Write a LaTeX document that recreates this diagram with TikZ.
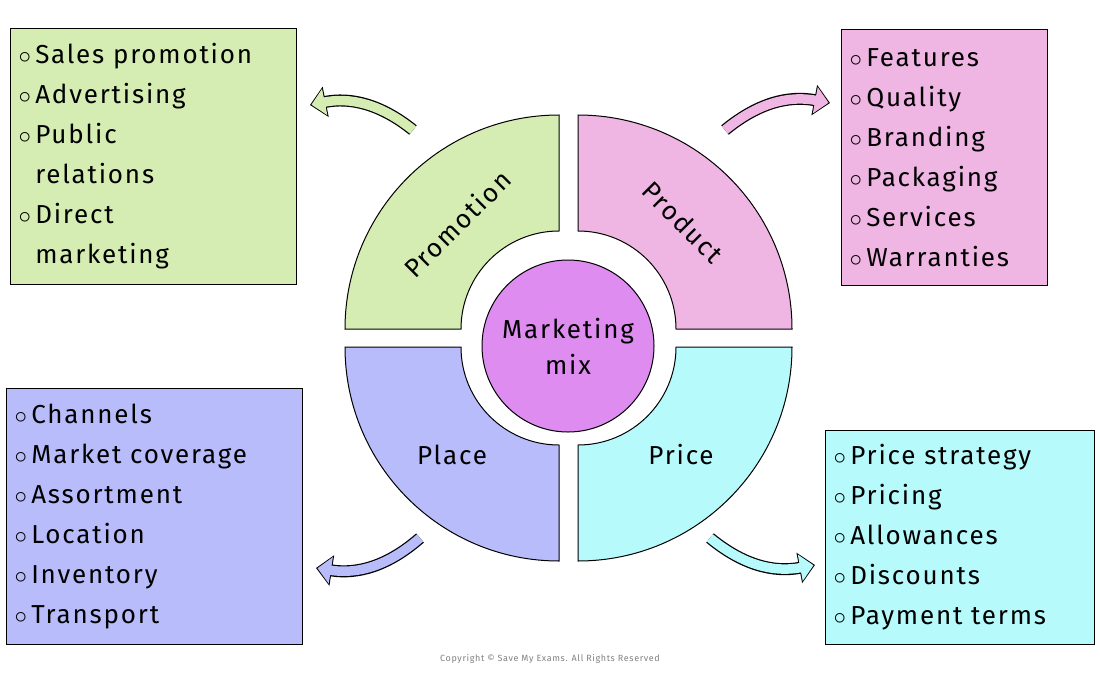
\documentclass[tikz,border=0pt]{standalone}
\usepackage{fontspec}
\setmainfont{Fira Sans}[LetterSpace=7]
\usetikzlibrary{arrows.meta}
\definecolor{cpromo}{HTML}{D5EDB3}
\definecolor{cprod}{HTML}{EFB5E3}
\definecolor{cplace}{HTML}{B8BCFA}
\definecolor{cprice}{HTML}{B6FAFC}
\definecolor{cmix}{HTML}{DE8CF0}
\begin{document}
\begin{tikzpicture}[x=1pt,y=-1pt,
  sec/.style={draw=black,line width=1pt},
  box/.style={draw=black,line width=1pt,anchor=north west,align=left,inner xsep=8pt,inner ysep=6pt,font=\fontsize{26}{40}\selectfont,text width=#1},
  lab/.style={font=\fontsize{26}{30}\selectfont},
  arr/.style={line width=1pt}]
\useasboundingbox (0,0) rectangle (1100,672);
% sectors
\def\ri{98}\def\ro{214}
\filldraw[sec,fill=cpromo] (559-\ri,329) -- (559-\ro,329) arc[start angle=180,end angle=90,x radius=\ro,y radius=-\ro] -- (559,329-\ri) arc[start angle=90,end angle=180,x radius=\ri,y radius=-\ri] -- cycle;
\filldraw[sec,fill=cprod] (578,329-\ri) -- (578,329-\ro) arc[start angle=90,end angle=0,x radius=\ro,y radius=-\ro] -- (578+\ri,329) arc[start angle=0,end angle=90,x radius=\ri,y radius=-\ri] -- cycle;
\filldraw[sec,fill=cplace] (559-\ri,347) -- (559-\ro,347) arc[start angle=180,end angle=270,x radius=\ro,y radius=-\ro] -- (559,347+\ri) arc[start angle=270,end angle=180,x radius=\ri,y radius=-\ri] -- cycle;
\filldraw[sec,fill=cprice] (578+\ri,347) -- (578+\ro,347) arc[start angle=0,end angle=-90,x radius=\ro,y radius=-\ro] -- (578,347+\ri) arc[start angle=-90,end angle=0,x radius=\ri,y radius=-\ri] -- cycle;
\node[circle,draw,line width=1pt,fill=cmix,minimum size=172pt,align=center,lab] (mix) at (568,346) {Marketing\\[6pt]mix};
\node[lab,rotate=45] (lpromo) at (457,224) {Promotion};
\node[lab,rotate=-45] (lprod) at (683,222) {Product};
\node[lab] (lplace) at (452,455) {Place};
\node[lab] (lprice) at (681,455) {Price};
% boxes
\node[box=270pt,fill=cpromo,minimum height=256pt] (bpromo) at (10,28) {$\circ$\,Sales promotion\\$\circ$\,Advertising\\$\circ$\,Public\\\phantom{$\circ$\,}relations\\$\circ$\,Direct\\\phantom{$\circ$\,}marketing};
\node[box=190pt,fill=cprod,minimum height=256pt] (bprod) at (841,29) {$\circ$\,Features\\$\circ$\,Quality\\$\circ$\,Branding\\$\circ$\,Packaging\\$\circ$\,Services\\$\circ$\,Warranties};
\node[box=280pt,fill=cplace,minimum height=256pt] (bplace) at (6,388) {$\circ$\,Channels\\$\circ$\,Market coverage\\$\circ$\,Assortment\\$\circ$\,Location\\$\circ$\,Inventory\\$\circ$\,Transport};
\node[box=253pt,fill=cprice,minimum height=214pt] (bprice) at (825,430) {$\circ$\,Price strategy\\$\circ$\,Pricing\\$\circ$\,Allowances\\$\circ$\,Discounts\\$\circ$\,Payment terms};
% arrows
\coordinate (a1s) at (413,130); \coordinate (a1e) at (310,105);
\coordinate (a2s) at (725,130); \coordinate (a2e) at (830,103);
\coordinate (a3s) at (420,538); \coordinate (a3e) at (316,568);
\coordinate (a4s) at (710,538); \coordinate (a4e) at (815,565);
\foreach \s/\e/\c/\b in {a1s/a1e/cpromo/25,a2s/a2e/cprod/-25,a3s/a3e/cplace/-25,a4s/a4e/cprice/25}{
  \draw[line width=12pt,-{Triangle[length=16pt,width=30pt]}] (\s) to[bend right=\b] (\e);
  \draw[line width=9.5pt,\c,shorten >=1.5pt,-{Triangle[length=13.5pt,width=26pt]}] (\s) to[bend right=\b] (\e);
}
\node[font=\fontsize{9}{10}\selectfont,text=gray] (copy) at (550,659) {Copyright © Save My Exams. All Rights Reserved};
\end{tikzpicture}
\end{document}
